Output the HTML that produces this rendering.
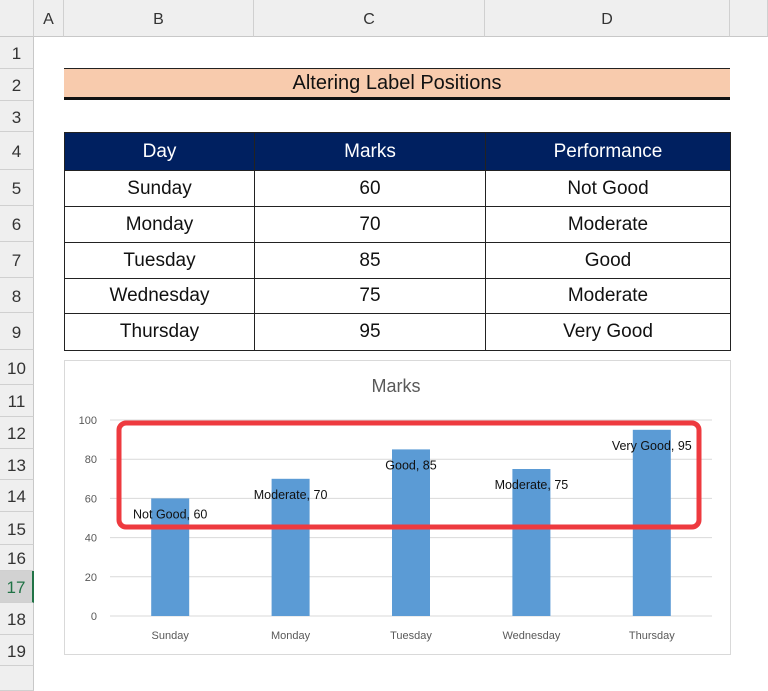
<!DOCTYPE html>
<html><head><meta charset="utf-8"><style>
body{margin:0;width:768px;height:691px;background:#fff;position:relative;overflow:hidden;font-family:"Liberation Sans",sans-serif}
.abs{position:absolute}
.colh{top:0;height:37px;background:#efefef;border-right:1px solid #d0d0d0;border-bottom:1px solid #c8c8c8;box-sizing:border-box;text-align:center;line-height:40px;font-size:16px;color:#333}
.rowh{left:0;width:34px;background:#efefef;border-bottom:1px solid #d0d0d0;border-right:1px solid #c8c8c8;box-sizing:border-box;text-align:center;font-size:17px;color:#333;display:flex;align-items:center;justify-content:center;padding-top:3px}
.cell{box-sizing:border-box;border:1px solid #222;display:flex;align-items:center;justify-content:center;font-size:19px;color:#111}
</style></head><body>
<div id="sheet"></div>
<div class="abs" style="left:64px;top:68px;width:666px;height:32px;background:#f8cbad;border-top:1px solid #222;border-bottom:3px solid #111;box-sizing:border-box;display:flex;align-items:center;justify-content:center;font-size:20px;color:#111">Altering Label Positions</div>
<div id="table"></div>
<div class="abs" style="left:64px;top:360px;width:667px;height:295px;border:1px solid #d9d9d9;box-sizing:border-box"></div>
<svg class="abs" style="left:0;top:0" width="768" height="691" id="chart"></svg>
<script>
const categories=["Sunday","Monday","Tuesday","Wednesday","Thursday"];
const marks=[60,70,85,75,95];
const performance=["Not Good","Moderate","Good","Moderate","Very Good"];
const yTicks=[0,20,40,60,80,100];

const body=document.body;
function div(cls,style,text){const d=document.createElement('div');d.className=cls;d.style.cssText=style;if(text!=null)d.textContent=text;body.appendChild(d);return d;}
const cols=[["",0,34],["A",34,64],["B",64,254],["C",254,485],["D",485,730],["",730,768]];
cols.forEach(c=>{const d=div('abs colh',`left:${c[1]}px;width:${c[2]-c[1]}px`,c[0]);

});
const rowB=[37,69,101,132,170,206,242,278,313,350,385,417,449,480,512,545,571,603,635,666];
for(let i=0;i<19;i++){const d=div('abs rowh',`top:${rowB[i]}px;height:${rowB[i+1]-rowB[i]}px`+(i==16?';background:#d2d2d2;border-right:2px solid #217346;color:#217346':''),String(i+1));

}
const rh=div('abs rowh',`top:666px;height:25px`,'');


const tx=[64,254,485,730];
const heads=["Day","Marks","Performance"];
heads.forEach((h,j)=>{const d=div('abs cell',`left:${tx[j]}px;top:132px;width:${tx[j+1]-tx[j]+1}px;height:39px;background:#002060;color:#fff`,h);

});
categories.forEach((c,i)=>{const vals=[c,String(marks[i]),performance[i]];
vals.forEach((v,j)=>{const d=div('abs cell',`left:${tx[j]}px;top:${rowB[i+4]}px;width:${tx[j+1]-tx[j]+1}px;height:${rowB[i+5]-rowB[i+4]+1}px`,v);

});});

const svg=document.getElementById('chart');const NS='http://www.w3.org/2000/svg';
function el(t,a,txt){const e=document.createElementNS(NS,t);for(const k in a)e.setAttribute(k,a[k]);if(txt!=null)e.textContent=txt;svg.appendChild(e);return e;}
const x0=110,x1=712,yTop=420,yBot=616;
const yS=v=>yBot-(v/100)*(yBot-yTop);
const band=(x1-x0)/categories.length;
const xS=i=>x0+band*(i+0.5);
const t=el('text',{x:396,y:392,'text-anchor':'middle','font-size':18,fill:'#595959'},'Marks');

yTicks.forEach(v=>{const g=el('line',{x1:x0,x2:x1,y1:yS(v),y2:yS(v),stroke:'#d9d9d9','stroke-width':1});

const l=el('text',{x:97,y:yS(v)+4,'text-anchor':'end','font-size':11,fill:'#595959'},String(v));
});
const bw=38;
categories.forEach((c,i)=>{const b=el('rect',{x:xS(i)-bw/2,y:yS(marks[i]),width:bw,height:yBot-yS(marks[i]),fill:'#5b9bd5'});

const xl=el('text',{x:xS(i),y:yBot+23,'text-anchor':'middle','font-size':11,fill:'#595959'},c);

const dl=el('text',{x:xS(i),y:yS(marks[i])+20,'text-anchor':'middle','font-size':12.5,fill:'#111'},performance[i]+', '+marks[i]);
});
const r=el('rect',{x:119,y:423,width:580,height:104,rx:7,fill:'none',stroke:'#ee3a3f','stroke-width':5});

</script>
</body></html>
